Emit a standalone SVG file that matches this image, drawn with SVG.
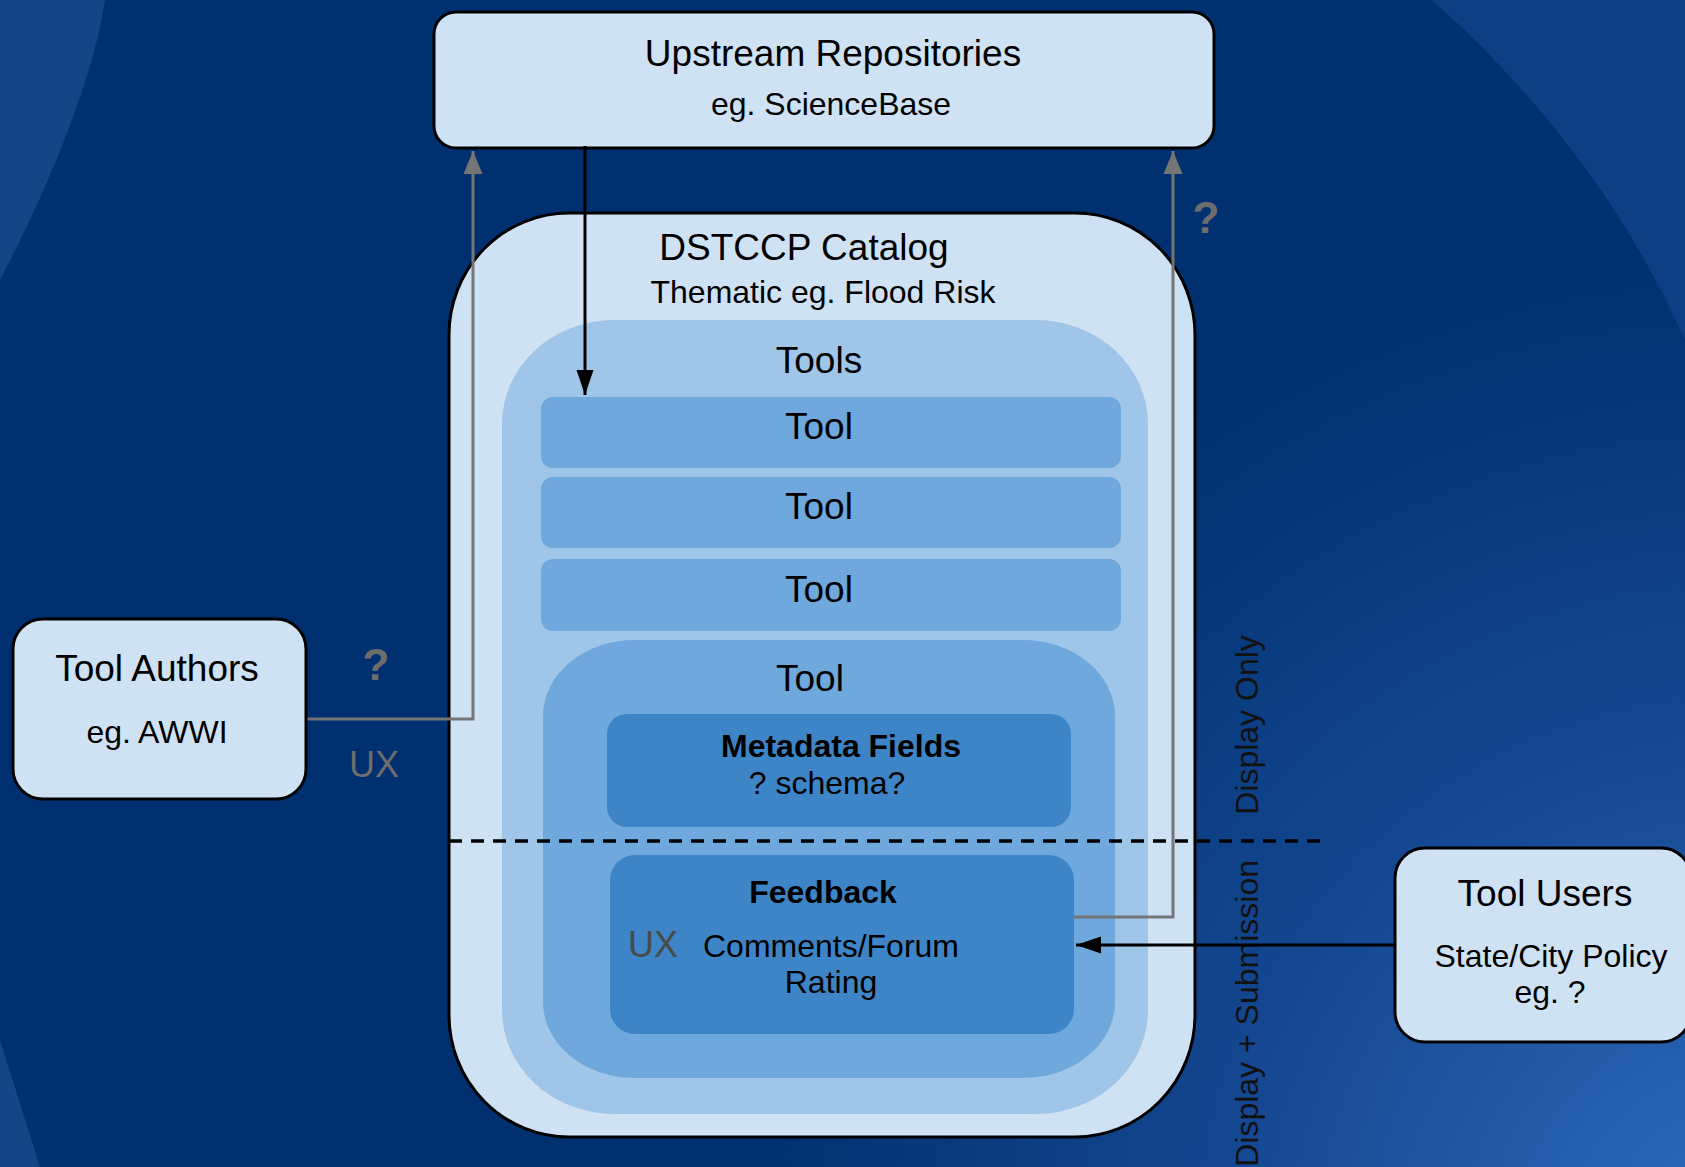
<svg xmlns="http://www.w3.org/2000/svg" width="1685" height="1167" viewBox="0 0 1685 1167">
<defs>
<radialGradient id="glow" gradientUnits="userSpaceOnUse" cx="1750" cy="1250" r="1000">
<stop offset="0" stop-color="#2f6dbf"/>
<stop offset="0.5" stop-color="#164993"/>
<stop offset="1" stop-color="#00306f"/>
</radialGradient>
<marker id="ahBlack" markerUnits="userSpaceOnUse" markerWidth="26" markerHeight="18" refX="25" refY="8.5" orient="auto">
<path d="M0,0 L25,8.5 L0,17 Z" fill="#000"/>
</marker>
<marker id="ahGray" markerUnits="userSpaceOnUse" markerWidth="24" markerHeight="20" refX="23" refY="9.5" orient="auto">
<path d="M0,0 L23,9.5 L0,19 Z" fill="#757575"/>
</marker>
<style>
text{font-family:"Liberation Sans",Arial,sans-serif;fill:#000;}
.t{font-size:37px;text-anchor:middle;}
.s{font-size:32px;text-anchor:middle;}
.b{font-size:32px;font-weight:bold;text-anchor:middle;}
.g{fill:#6d6d6d;}
.box{fill:#cfe2f3;stroke:#000;stroke-width:3;}
.l1{fill:#9fc5e8;}
.l2{fill:#6fa8dc;}
.l3{fill:#3d85c6;}
.blk{fill:none;stroke:#000;stroke-width:3;}
.gry{fill:none;stroke:#757575;stroke-width:3;}
.dash{fill:none;stroke:#000;stroke-width:3.5;stroke-dasharray:13 9;}
</style>
</defs>

<g id="background">
<rect x="0" y="0" width="1685" height="1167" fill="#00306f"/>
<rect x="0" y="0" width="1685" height="1167" fill="url(#glow)"/>
<path d="M1432,0 Q1600,150 1685,340 L1685,0 Z" fill="#0d3f84"/>
<path d="M0,0 L105,0 C95,70 55,175 0,280 Z" fill="#134587"/>
<path d="M0,1040 L40,1167 L0,1167 Z" fill="#134587"/>
</g>

<g id="upstream">
<rect class="box" x="434" y="12" width="780" height="136" rx="22"/>
<text class="t" x="833" y="66">Upstream Repositories</text>
<text class="s" x="831" y="115">eg. ScienceBase</text>
</g>

<g id="catalog">
<rect class="box" x="449" y="213" width="746" height="924" rx="120" ry="122"/>
<text class="t" x="804" y="260">DSTCCP Catalog</text>
<text class="s" x="823" y="303">Thematic eg. Flood Risk</text>
</g>

<g id="tools">
<rect class="l1" x="502" y="320" width="646" height="794" rx="112" ry="104"/>
<text class="t" x="819" y="373">Tools</text>
</g>

<g id="tool1">
<rect class="l2" x="541" y="397" width="580" height="71" rx="12"/>
<text class="t" x="819" y="439">Tool</text>
</g>
<g id="tool2">
<rect class="l2" x="541" y="477" width="580" height="71" rx="12"/>
<text class="t" x="819" y="519">Tool</text>
</g>
<g id="tool3">
<rect class="l2" x="541" y="559" width="580" height="72" rx="12"/>
<text class="t" x="819" y="602">Tool</text>
</g>

<g id="tool4">
<rect class="l2" x="543" y="640" width="572" height="438" rx="92" ry="76"/>
<text class="t" x="810" y="691">Tool</text>
</g>

<g id="metadata">
<rect class="l3" x="607" y="714" width="464" height="113" rx="20"/>
<text class="b" x="841" y="757">Metadata Fields</text>
<text class="s" x="827" y="794">? schema?</text>
</g>

<g id="feedback">
<rect class="l3" x="610" y="855" width="464" height="179" rx="25"/>
<text class="b" x="823" y="903">Feedback</text>
<text x="628" y="957" style="font-size:36px;fill:#4a4a4a;">UX</text>
<text class="s" x="831" y="957">Comments/Forum</text>
<text class="s" x="831" y="993">Rating</text>
</g>

<g id="divider">
<line class="dash" x1="449" y1="841" x2="1320" y2="841"/>
<text transform="translate(1258,725) rotate(-90)" style="font-size:32px;text-anchor:middle;fill:#111;">Display Only</text>
<text transform="translate(1258,860) rotate(-90)" style="font-size:32px;text-anchor:end;fill:#111;">Display + Submission</text>
</g>

<g id="connectors">
<line class="blk" x1="585" y1="146" x2="585" y2="395" marker-end="url(#ahBlack)"/>
<polyline class="gry" points="306,719 473,719 473,151" marker-end="url(#ahGray)"/>
<polyline class="gry" points="1074,917 1173,917 1173,151" marker-end="url(#ahGray)"/>
<line class="blk" x1="1395" y1="945" x2="1076" y2="945" marker-end="url(#ahBlack)"/>
<text x="376" y="680" class="g" style="font-size:44px;font-weight:bold;text-anchor:middle;">?</text>
<text x="374" y="777" class="g" style="font-size:36px;text-anchor:middle;">UX</text>
<text x="1206" y="233" class="g" style="font-size:44px;font-weight:bold;text-anchor:middle;">?</text>
</g>

<g id="authors">
<rect class="box" x="13" y="619" width="293" height="180" rx="30"/>
<text class="t" x="157" y="681">Tool Authors</text>
<text class="s" x="157" y="743">eg. AWWI</text>
</g>

<g id="users">
<rect class="box" x="1395" y="848" width="296" height="194" rx="30"/>
<text class="t" x="1545" y="906">Tool Users</text>
<text class="s" x="1551" y="967">State/City Policy</text>
<text class="s" x="1550" y="1003">eg. ?</text>
</g>
</svg>
